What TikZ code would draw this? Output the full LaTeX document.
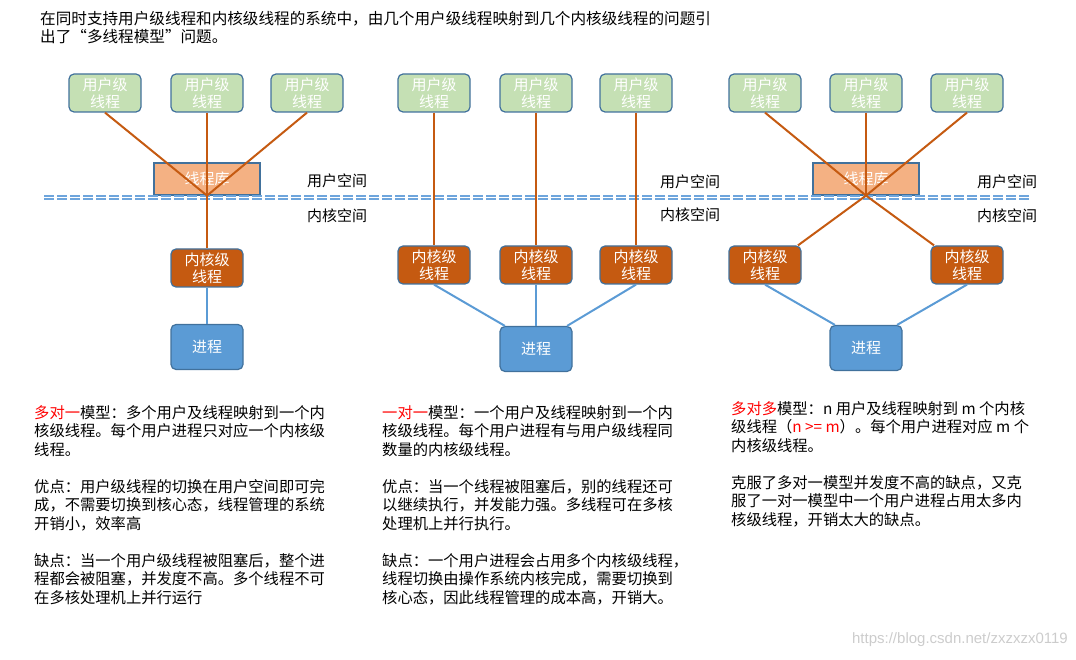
\documentclass[tikz,border=0pt]{standalone}
\usepackage{fontspec}
\setmainfont{Noto Sans CJK SC}
\newfontfamily\markfont{Liberation Sans}
\usetikzlibrary{calc}

\definecolor{userfill}{RGB}{197,224,180}
\definecolor{kernfill}{RGB}{197,90,17}
\definecolor{procfill}{RGB}{91,155,213}
\definecolor{libfill}{RGB}{244,177,131}
\definecolor{boxedge}{RGB}{65,113,156}
\definecolor{sepblue}{RGB}{110,165,220}

\newcommand\boxfont{\fontsize{15}{17}\selectfont}
\newcommand\bodyfont{\fontsize{15.3}{18.5}\selectfont}
\newcommand\introfont{\fontsize{15.6}{18}\selectfont}

\tikzset{
	box/.style={draw=boxedge,line width=1.2pt,rounded corners=5pt,text=white,align=center,font=\boxfont,minimum width=72pt,inner sep=0pt},
	userbox/.style={box,fill=userfill,minimum height=38pt},
	kernbox/.style={box,fill=kernfill,minimum height=38pt},
	procbox/.style={box,fill=procfill,minimum height=45pt},
	libbox/.style={box,fill=libfill,rounded corners=0pt,minimum width=106pt,minimum height=32pt},
	olink/.style={draw=kernfill,line width=2pt},
	blink/.style={draw=procfill,line width=2pt},
	sepline/.style={draw=sepblue,line width=1.3pt,dash pattern=on 10pt off 3pt},
	txt/.style={align=left,font=\bodyfont,inner sep=0pt,anchor=north west},
	space/.style={font=\boxfont,inner sep=0pt}
}

\begin{document}
\begin{tikzpicture}[x=1pt,y=-1pt]
	\useasboundingbox (0,0) rectangle (1076,660);
	\node[txt,font=\introfont] (intro) at (40,11) {在同时支持用户级线程和内核级线程的系统中，由几个用户级线程映射到几个内核级线程的问题引\\出了“多线程模型”问题。};

	\node[libbox] (lib1) at (207,179) {线程库};
	\node[userbox] (u11) at (105,93) {用户级\\线程};
	\node[userbox] (u12) at (207,93) {用户级\\线程};
	\node[userbox] (u13) at (307,93) {用户级\\线程};
	\node[kernbox] (k11) at (207,268) {内核级\\线程};
	\node[procbox] (p1) at (207,347) {进程};
	\node[space] (us1) at (337,181) {用户空间};
	\node[space] (ks1) at (337,216) {内核空间};

	\node[userbox] (u21) at (434,93) {用户级\\线程};
	\node[userbox] (u22) at (536,93) {用户级\\线程};
	\node[userbox] (u23) at (636,93) {用户级\\线程};
	\node[kernbox] (k21) at (434,265) {内核级\\线程};
	\node[kernbox] (k22) at (536,265) {内核级\\线程};
	\node[kernbox] (k23) at (636,265) {内核级\\线程};
	\node[procbox] (p2) at (536,349) {进程};
	\node[space] (us2) at (690,182) {用户空间};
	\node[space] (ks2) at (690,215) {内核空间};

	\node[libbox] (lib3) at (866,179) {线程库};
	\node[userbox] (u31) at (765,93) {用户级\\线程};
	\node[userbox] (u32) at (866,93) {用户级\\线程};
	\node[userbox] (u33) at (967,93) {用户级\\线程};
	\node[kernbox] (k31) at (765,265) {内核级\\线程};
	\node[kernbox] (k32) at (967,265) {内核级\\线程};
	\node[procbox] (p3) at (866,348) {进程};
	\node[space] (us3) at (1007,182) {用户空间};
	\node[space] (ks3) at (1007,216) {内核空间};

	\coordinate (dl) at (44,196);
	\coordinate (dr) at (1030,196);
	\draw[sepline] (dl) -- (dr);
	\draw[sepline] ([yshift=-3pt]dl) -- ([yshift=-3pt]dr);

	\draw[olink] (u11.south) -- (lib1.south);
	\draw[olink] (u12.south) -- (lib1.south);
	\draw[olink] (u13.south) -- (lib1.south);
	\draw[olink] (lib1.south) -- (k11.north);
	\draw[blink] (k11.south) -- (p1.north);

	\draw[olink] (u21.south) -- (k21.north);
	\draw[olink] (u22.south) -- (k22.north);
	\draw[olink] (u23.south) -- (k23.north);
	\draw[blink] (k21.south) -- ($(p2.north west)!0.15!(p2.north)$);
	\draw[blink] (k22.south) -- (p2.north);
	\draw[blink] (k23.south) -- ($(p2.north east)!0.15!(p2.north)$);

	\draw[olink] (u31.south) -- (lib3.south) -- ($(k32.north west)!0.1!(k32.north)$);
	\draw[olink] (u32.south) -- (lib3.south);
	\draw[olink] (u33.south) -- (lib3.south) -- ($(k31.north east)!0.1!(k31.north)$);
	\draw[blink] (k31.south) -- ($(p3.north west)!0.15!(p3.north)$);
	\draw[blink] (k32.south) -- ($(p3.north east)!0.15!(p3.north)$);

	\node[txt] (many1) at (34,405) {\textcolor{red}{多对一}模型：多个用户及线程映射到一个内\\核级线程。每个用户进程只对应一个内核级\\线程。\\[18.5pt]优点：用户级线程的切换在用户空间即可完\\成，不需要切换到核心态，线程管理的系统\\开销小，效率高\\[18.5pt]缺点：当一个用户级线程被阻塞后，整个进\\程都会被阻塞，并发度不高。多个线程不可\\在多核处理机上并行运行};
	\node[txt] (one1) at (382,405) {\textcolor{red}{一对一}模型：一个用户及线程映射到一个内\\核级线程。每个用户进程有与用户级线程同\\数量的内核级线程。\\[18.5pt]优点：当一个线程被阻塞后，别的线程还可\\以继续执行，并发能力强。多线程可在多核\\处理机上并行执行。\\[18.5pt]缺点：一个用户进程会占用多个内核级线程，\\线程切换由操作系统内核完成，需要切换到\\核心态，因此线程管理的成本高，开销大。};
	\node[txt] (manym) at (731,401) {\textcolor{red}{多对多}模型：n 用户及线程映射到 m 个内核\\级线程（\textcolor{red}{n >= m}）。每个用户进程对应 m 个\\内核级线程。\\[18.5pt]克服了多对一模型并发度不高的缺点，又克\\服了一对一模型中一个用户进程占用太多内\\核级线程，开销太大的缺点。};

	\node[anchor=east,inner sep=0pt,text=black!20,font=\markfont\fontsize{15}{15}\selectfont] (mark) at (1068,640) {https://blog.csdn.net/zxzxzx0119};
\end{tikzpicture}
\end{document}
